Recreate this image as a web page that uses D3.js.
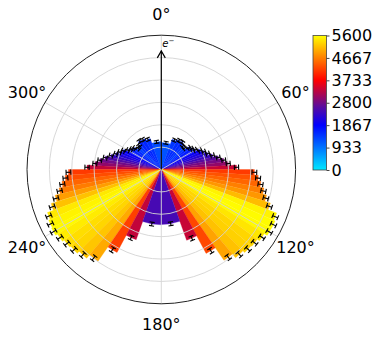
<!DOCTYPE html>
<html>
<head>
<meta charset="utf-8">
<script src="https://cdn.jsdelivr.net/npm/d3@7"></script>
<style>
    body { margin: 0; background: #fff; }
    svg { display: block; font-family: "DejaVu Sans", sans-serif; }
</style>
</head>
<body>
<div id="chart"></div>
<script>
// bin edges (deg, clockwise from top) for the right half, 0 -> 180
const binEdges = [0, 19.7, 28.1, 34.6, 40.1, 45.1, 49.7, 54.0, 58.1, 61.9, 65.7, 69.3, 72.9,
    76.4, 79.8, 83.2, 86.6, 90, 93.4, 96.8, 100.2, 103.6, 107.1, 110.7, 114.3, 118.1,
    121.9, 126.0, 130.3, 134.9, 139.9, 145.4, 151.9, 160.3, 180];

// counts per bin, right half (0 -> 180) and left half (360 -> 180)
const rightCounts = [1210, 1430, 1510, 1540, 1430, 1400, 1570, 1650, 1750, 1930, 2060, 2190,
    2370, 2600, 2820, 3000, 3360, 4160, 4340, 4480, 4660, 4840, 5100, 5510, 5580, 5570,
    5420, 5300, 5260, 5150, 4930, 4250, 3360, 2460];
const leftCounts = [1250, 1470, 1560, 1600, 1460, 1380, 1540, 1620, 1720, 1900, 2020, 2150,
    2330, 2560, 2780, 2980, 3320, 4150, 4300, 4470, 4640, 4880, 5150, 5440, 5520, 5560,
    5460, 5360, 5300, 5180, 4980, 4200, 3330, 2470];
const rightErrors = [60, 65, 65, 66, 64, 63, 66, 68, 70, 73, 76, 78, 80, 84, 88, 90, 95, 106,
    108, 110, 112, 114, 118, 122, 124, 124, 122, 121, 120, 119, 116, 108, 95, 82];
const leftErrors = [61, 66, 66, 67, 64, 63, 65, 67, 70, 72, 75, 77, 80, 84, 87, 90, 95, 106,
    108, 110, 112, 115, 119, 122, 124, 124, 123, 121, 120, 119, 117, 108, 95, 82];

const gridValues = [1000, 2000, 3000, 4000, 5000];
const thetaTicks = [0, 60, 120, 180, 240, 300];
const thetaLabels = ["0°", "60°", "120°", "180°", "240°", "300°"];
const cbarTicks = [0, 933, 1867, 2800, 3733, 4667, 5600];
const cbarLabels = ["0", "933", "1867", "2800", "3733", "4667", "5600"];
const cmapStops = [0, 1867, 2650, 3733, 5600];
const cmapColors = ["#00e8ff", "#0000ff", "#5c0c9c", "#ff0000", "#ffff00"];

const width = 382;
const height = 340;
const cx = 161.3;
const cy = 169.5;
const outerR = 134.3;
const rMax = 6000;

const color = d3.scaleLinear().domain(cmapStops).range(cmapColors).clamp(true);
const r = d3.scaleLinear().domain([0, rMax]).range([0, outerR]);
const rad = deg => deg * Math.PI / 180;

const svg = d3.select("#chart").append("svg")
    .attr("width", width)
    .attr("height", height);

const g = svg.append("g").attr("transform", `translate(${cx},${cy})`);

// build bar table from both halves
const bars = [];
rightCounts.forEach((v, i) => {
    bars.push({ a0: binEdges[i], a1: binEdges[i + 1], value: v, err: rightErrors[i] });
});
leftCounts.forEach((v, i) => {
    bars.push({ a0: 360 - binEdges[i + 1], a1: 360 - binEdges[i], value: v, err: leftErrors[i] });
});

const arc = d3.arc()
    .innerRadius(0)
    .outerRadius(d => r(d.value))
    .startAngle(d => rad(d.a0))
    .endAngle(d => rad(d.a1));

g.append("g").attr("class", "bars")
    .selectAll("path")
    .data(bars)
    .join("path")
    .attr("d", arc)
    .attr("fill", d => color(d.value))
    .attr("stroke", d => color(d.value))
    .attr("stroke-width", 0.3);

// grid on top of the bars
const grid = g.append("g").attr("class", "grid");
grid.selectAll("circle")
    .data(gridValues)
    .join("circle")
    .attr("r", d => r(d))
    .attr("fill", "none")
    .attr("stroke", "#d4d4d4")
    .attr("stroke-width", 0.9);
grid.selectAll("line")
    .data(thetaTicks)
    .join("line")
    .attr("x1", 0).attr("y1", 0)
    .attr("x2", d => outerR * Math.sin(rad(d)))
    .attr("y2", d => -outerR * Math.cos(rad(d)))
    .attr("stroke", "#d4d4d4")
    .attr("stroke-width", 0.9);

// error bars, radial with tangential caps
const cap = 2.6;
const eb = g.append("g").attr("class", "errbars")
    .selectAll("g")
    .data(bars)
    .join("g")
    .attr("transform", d => `rotate(${(d.a0 + d.a1) / 2})`);
eb.append("line")
    .attr("x1", 0).attr("x2", 0)
    .attr("y1", d => -r(d.value - d.err))
    .attr("y2", d => -r(d.value + d.err))
    .attr("stroke", "#000").attr("stroke-width", 1.1);
[-1, 1].forEach(s => {
    eb.append("line")
        .attr("x1", -cap).attr("x2", cap)
        .attr("y1", d => -r(d.value + s * d.err))
        .attr("y2", d => -r(d.value + s * d.err))
        .attr("stroke", "#000").attr("stroke-width", 1.1);
});

// outer spine
g.append("circle")
    .attr("r", outerR)
    .attr("fill", "none")
    .attr("stroke", "#222")
    .attr("stroke-width", 1);

// e- arrow
const arrowLen = r(5300);
g.append("line")
    .attr("x1", 0).attr("y1", 0)
    .attr("x2", 0).attr("y2", -arrowLen)
    .attr("stroke", "#000").attr("stroke-width", 1.2);
g.append("path")
    .attr("d", `M${-4},${-arrowLen + 7}L0,${-arrowLen}L${4},${-arrowLen + 7}`)
    .attr("fill", "none")
    .attr("stroke", "#000").attr("stroke-width", 1.2);
const eLabel = g.append("text")
    .attr("x", 1)
    .attr("y", -arrowLen - 4)
    .attr("font-size", 10)
    .attr("font-style", "italic");
eLabel.append("tspan").text("e");
eLabel.append("tspan")
    .attr("dy", -4)
    .attr("font-size", 7)
    .attr("font-style", "normal")
    .text("−");

// theta labels
g.append("g").attr("class", "theta-labels")
    .selectAll("text")
    .data(thetaTicks)
    .join("text")
    .attr("x", d => 155 * Math.sin(rad(d)))
    .attr("y", d => -155 * Math.cos(rad(d)))
    .attr("text-anchor", "middle")
    .attr("dominant-baseline", "central")
    .attr("font-size", 16)
    .attr("fill", "#000")
    .text((d, i) => thetaLabels[i]);

// colorbar
const cbX = 313, cbY = 35.5, cbW = 13.5, cbH = 134.5;
const defs = svg.append("defs");
const grad = defs.append("linearGradient")
    .attr("id", "cbar-grad")
    .attr("x1", 0).attr("y1", 1).attr("x2", 0).attr("y2", 0);
grad.selectAll("stop")
    .data(cmapStops)
    .join("stop")
    .attr("offset", d => d / 5600)
    .attr("stop-color", (d, i) => cmapColors[i]);

svg.append("rect")
    .attr("x", cbX).attr("y", cbY)
    .attr("width", cbW).attr("height", cbH)
    .attr("fill", "url(#cbar-grad)")
    .attr("stroke", "#444")
    .attr("stroke-width", 0.8);

const cbScale = d3.scaleLinear().domain([0, 5600]).range([cbY + cbH, cbY]);
const cbAxis = svg.append("g")
    .attr("transform", `translate(${cbX + cbW},0)`)
    .call(d3.axisRight(cbScale)
        .tickValues(cbarTicks)
        .tickFormat((d, i) => cbarLabels[i])
        .tickSize(3)
        .tickPadding(2));
cbAxis.select(".domain").remove();
cbAxis.selectAll("text")
    .attr("font-size", 16)
    .attr("font-family", "DejaVu Sans, sans-serif")
    .attr("fill", "#000");
cbAxis.selectAll("line").attr("stroke", "#444");
</script>
</body>
</html>
